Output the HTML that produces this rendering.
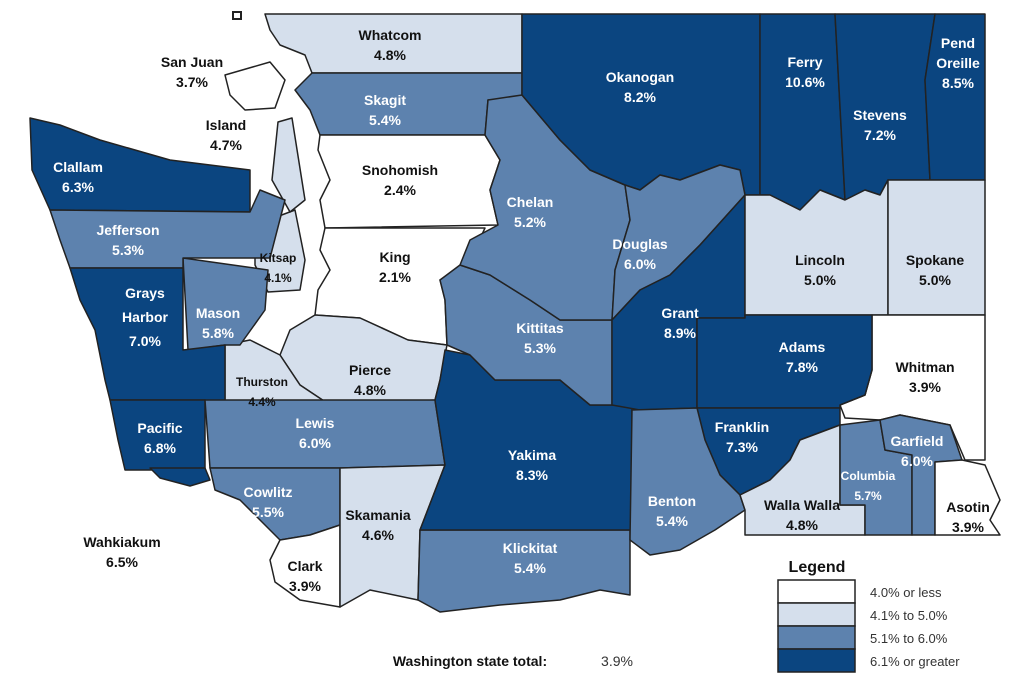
<!DOCTYPE html>
<html><head><meta charset="utf-8">
<style>
body{margin:0;background:#fff;width:1024px;height:682px;overflow:hidden;font-family:"Liberation Sans",Arial,sans-serif}
svg text{font-family:"Liberation Sans",Arial,sans-serif;font-weight:bold;font-size:14px;text-anchor:middle}
</style></head><body>
<svg id="map" width="1024" height="682" viewBox="0 0 1024 682">
<g id="counties"></g><g id="labels"></g>
<rect x="233" y="12" width="8" height="7" fill="#fff" stroke="#222" stroke-width="2"/>
<g id="legend">
<text x="817" y="572" style="font-size:16px;fill:#111">Legend</text>
</g>
<text x="470" y="666" style="font-size:14px;fill:#111">Washington state total:</text>
<text x="617" y="666" style="font-size:14px;font-weight:normal;fill:#333">3.9%</text>
</svg>
<script>
const names=["Whatcom","Skagit","Snohomish","King","Pierce","Thurston","Kitsap","Mason","Island","San Juan","Clallam","Jefferson","Grays Harbor","Pacific","Wahkiakum","Lewis","Cowlitz","Clark","Skamania","Klickitat","Yakima","Kittitas","Chelan","Okanogan","Douglas","Grant","Ferry","Stevens","Pend Oreille","Lincoln","Spokane","Whitman","Adams","Franklin","Benton","Walla Walla","Columbia","Garfield","Asotin"];
const rates=[4.8,5.4,2.4,2.1,4.8,4.4,4.1,5.8,4.7,3.7,6.3,5.3,7.0,6.8,6.5,6.0,5.5,3.9,4.6,5.4,8.3,5.3,5.2,8.2,6.0,8.9,10.6,7.2,8.5,5.0,5.0,3.9,7.8,7.3,5.4,4.8,5.7,6.0,3.9];
const thresholds=[4.0,5.0,6.0];
const classColors=["#ffffff","#d5dfec","#5d82ae","#0b4580"];
const legendLabels=["4.0% or less","4.1% to 5.0%","5.1% to 6.0%","6.1% or greater"];
const shapes={
"Whatcom":[[265,14],[522,14],[522,73],[312,73],[305,55],[280,45],[270,30]],
"Skagit":[[312,73],[522,73],[522,100],[488,100],[485,135],[320,135],[310,110],[295,90]],
"Snohomish":[[320,135],[485,135],[500,160],[490,190],[498,225],[325,228],[320,200],[330,180],[318,150]],
"King":[[325,228],[485,228],[470,260],[440,280],[445,300],[447,345],[408,340],[360,318],[315,315],[318,290],[330,270],[320,250]],
"Pierce":[[290,330],[315,315],[360,318],[408,340],[447,345],[440,380],[435,400],[330,405],[300,385],[280,355]],
"Thurston":[[225,345],[250,340],[280,355],[300,385],[330,405],[225,405]],
"Kitsap":[[255,225],[295,210],[305,260],[300,290],[268,292],[255,265]],
"Mason":[[183,258],[268,270],[265,310],[240,345],[225,345],[188,350]],
"Island":[[278,122],[292,118],[305,200],[290,212],[272,180]],
"San Juan":[[225,75],[270,62],[285,80],[275,108],[245,110],[230,95]],
"Clallam":[[30,118],[60,125],[100,140],[170,160],[250,170],[250,212],[50,210],[32,170]],
"Jefferson":[[50,210],[250,212],[260,190],[285,200],[270,258],[183,258],[183,268],[70,268],[60,240]],
"Grays Harbor":[[70,268],[183,268],[183,350],[225,345],[225,405],[205,400],[110,400],[105,380],[95,330],[80,300]],
"Pacific":[[110,400],[205,400],[205,468],[150,470],[125,470],[118,440]],
"Wahkiakum":[[150,468],[205,468],[210,480],[190,486],[160,478]],
"Lewis":[[205,400],[435,400],[445,465],[340,468],[210,468]],
"Cowlitz":[[210,468],[340,468],[340,525],[310,535],[280,540],[260,520],[240,500],[215,490]],
"Clark":[[280,540],[310,535],[340,525],[340,607],[300,600],[275,582],[270,560]],
"Skamania":[[340,468],[445,465],[420,530],[418,600],[370,590],[340,607]],
"Klickitat":[[420,530],[630,530],[630,595],[600,590],[560,600],[500,605],[440,612],[418,600]],
"Yakima":[[445,350],[470,355],[495,380],[560,380],[590,405],[632,405],[632,530],[420,530],[445,465],[435,400],[440,380]],
"Kittitas":[[440,280],[460,265],[490,275],[530,300],[560,320],[612,320],[612,405],[590,405],[560,380],[495,380],[470,355],[447,345],[445,300]],
"Chelan":[[485,135],[488,100],[522,95],[560,140],[590,170],[625,185],[630,220],[615,270],[612,320],[560,320],[530,300],[490,275],[460,265],[470,240],[498,225],[490,190],[500,160]],
"Okanogan":[[522,14],[760,14],[760,195],[745,195],[740,170],[720,165],[680,180],[660,175],[640,190],[625,185],[590,170],[560,140],[522,95]],
"Douglas":[[625,185],[640,190],[660,175],[680,180],[720,165],[740,170],[745,195],[700,245],[670,275],[640,290],[612,320],[615,270],[630,220]],
"Grant":[[745,195],[745,318],[697,318],[697,408],[640,410],[612,405],[612,320],[640,290],[670,275],[700,245]],
"Ferry":[[760,14],[835,14],[845,200],[820,190],[800,210],[770,195],[760,195]],
"Stevens":[[835,14],[935,14],[925,80],[930,180],[888,180],[880,195],[865,190],[845,200]],
"Pend Oreille":[[935,14],[985,14],[985,180],[930,180],[925,80]],
"Lincoln":[[745,195],[770,195],[800,210],[820,190],[845,200],[865,190],[880,195],[888,180],[888,315],[745,315]],
"Spokane":[[888,180],[985,180],[985,315],[888,315]],
"Whitman":[[872,315],[985,315],[985,460],[965,460],[950,425],[900,415],[880,420],[845,418],[840,405],[865,395],[872,370]],
"Adams":[[745,315],[872,315],[872,370],[865,395],[840,405],[840,408],[697,408],[697,318],[745,318]],
"Franklin":[[697,408],[840,408],[840,425],[800,440],[790,460],[770,480],[740,495],[720,475],[705,440]],
"Benton":[[632,410],[697,408],[705,440],[720,475],[740,495],[745,510],[715,530],[680,550],[650,555],[630,540]],
"Walla Walla":[[740,495],[770,480],[790,460],[800,440],[840,425],[840,505],[865,505],[865,535],[745,535],[745,510]],
"Columbia":[[840,425],[880,420],[885,450],[912,455],[912,535],[865,535],[865,505],[840,505]],
"Garfield":[[880,420],[900,415],[950,425],[962,460],[935,462],[935,535],[912,535],[912,455],[885,450]],
"Asotin":[[935,462],[962,460],[985,465],[1000,500],[990,520],[1000,535],[935,535]]
};
const labelPos={
"Whatcom":[390,40],"Skagit":[385,105],"Snohomish":[400,175],"King":[395,262],"Pierce":[370,375],"Thurston":[262,386],"Kitsap":[278,262],"Mason":[218,318],"Island":[226,130],"San Juan":[192,67],"Clallam":[78,172],"Jefferson":[128,235],"Grays Harbor":[145,298],"Pacific":[160,433],"Wahkiakum":[122,547],"Lewis":[315,428],"Cowlitz":[268,497],"Clark":[305,571],"Skamania":[378,520],"Klickitat":[530,553],"Yakima":[532,460],"Kittitas":[540,333],"Chelan":[530,207],"Okanogan":[640,82],"Douglas":[640,249],"Grant":[680,318],"Ferry":[805,67],"Stevens":[880,120],"Pend Oreille":[958,48],"Lincoln":[820,265],"Spokane":[935,265],"Whitman":[925,372],"Adams":[802,352],"Franklin":[742,432],"Benton":[672,506],"Walla Walla":[802,510],"Columbia":[868,480],"Garfield":[917,446],"Asotin":[968,512]};
const twoLine={"Grays Harbor":["Grays","Harbor"],"Pend Oreille":["Pend","Oreille"]};
const outsideLabels=["Wahkiakum","San Juan","Island"];
function cls(r){let c=0;for(const t of thresholds){if(r>t)c++;}return c;}
const NS="http://www.w3.org/2000/svg";
const gC=document.getElementById('counties'),gL=document.getElementById('labels'),gLeg=document.getElementById('legend');
names.forEach((n,i)=>{
 const c=cls(rates[i]);
 const p=document.createElementNS(NS,'polygon');
 p.setAttribute('points',shapes[n].map(q=>q.join(',')).join(' '));
 p.setAttribute('fill',classColors[c]);p.setAttribute('stroke','#222');p.setAttribute('stroke-width','1.5');p.setAttribute('stroke-linejoin','round');
 const slug=n.toLowerCase().replace(/ /g,'-');
 
 
 gC.appendChild(p);
 const [x,y]=labelPos[n];
 const fill=(c>=2 && outsideLabels.indexOf(n)<0)?'#fff':'#111';
 const lines=(twoLine[n]||[n]).concat([rates[i].toFixed(1)+'%']);
 const small=(n==="Kitsap"||n==="Columbia"||n==="Thurston");
 lines.forEach((s,k)=>{
  const t=document.createElementNS(NS,'text');
  t.setAttribute('x',x);t.setAttribute('y',y+k*(n==="Grays Harbor"?24:20));
  t.setAttribute('fill',fill);
  if(small)t.setAttribute('style','font-size:12px');
  t.textContent=s;
  
  
  gL.appendChild(t);
 });
});
legendLabels.forEach((s,i)=>{
 const r=document.createElementNS(NS,'rect');
 r.setAttribute('x',778);r.setAttribute('y',580+i*23);r.setAttribute('width',77);r.setAttribute('height',23);
 r.setAttribute('fill',classColors[i]);r.setAttribute('stroke','#222');r.setAttribute('stroke-width','1.5');
 
 
 gLeg.appendChild(r);
 const t=document.createElementNS(NS,'text');
 t.setAttribute('x',870);t.setAttribute('y',597+i*23);
 t.setAttribute('style','text-anchor:start;font-weight:normal;font-size:13px;fill:#333');
 t.textContent=s;
 
 
 gLeg.appendChild(t);
});
</script>
</body></html>
